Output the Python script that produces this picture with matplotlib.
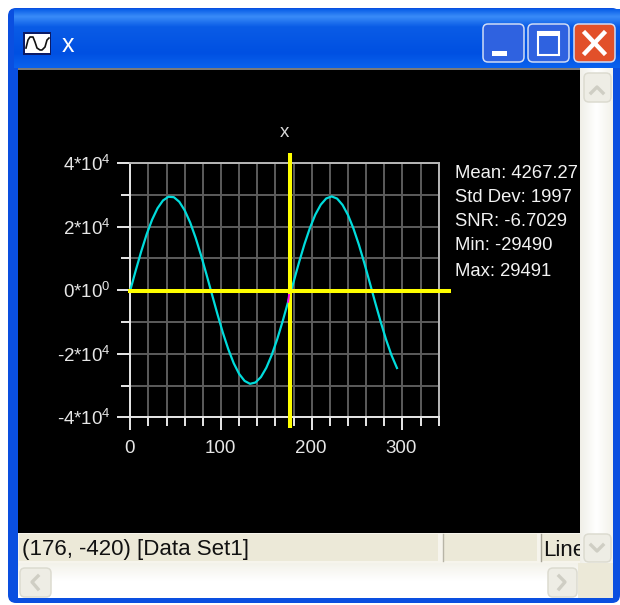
import numpy as np
import matplotlib
matplotlib.use('Agg')
import matplotlib.pyplot as plt
from matplotlib.patches import Rectangle, FancyBboxPatch
from matplotlib.transforms import ScaledTranslation

plt.rcParams['font.family'] = ['Liberation Sans', 'DejaVu Sans']
plt.rcParams['mathtext.default'] = 'regular'

# values
x_vals = [0, 6, 12, 18, 24, 30, 36, 42, 48, 54, 60, 66, 72, 78, 84, 90, 96, 102, 108, 114,
          120, 126, 132, 138, 144, 150, 156, 162, 168, 174, 180, 186, 192, 198, 204, 210,
          216, 222, 228, 234, 240, 246, 252, 258, 264, 270, 276, 282, 288, 294]
y_vals = [0, 6200, 12150, 17540, 22150, 25750, 28200, 29380, 29250, 27800, 25080, 21290,
          16490, 10950, 4920, -1290, -7480, -13340, -18560, -22980, -26360, -28550, -29470,
          -29050, -27340, -24390, -20340, -15400, -9750, -3650, 2570, 8720, 14470, 19550,
          23770, 26900, 28850, 29491, 28800, 26810, 23640, 19400, 14300, 8520, 2360, -3900,
          -9940, -15570, -20500, -24500]
cursor_x = 176
cursor_y = -420
x_ticks = [0, 100, 200, 300]
y_ticks = [-40000, -20000, 0, 20000, 40000]
y_labels = ['-4*10$^{4}$', '-2*10$^{4}$', '0*10$^{0}$', '2*10$^{4}$', '4*10$^{4}$']
stats = ['Mean: 4267.27', 'Std Dev: 1997', 'SNR: -6.7029', 'Min: -29490', 'Max: 29491']
stats_y = [174, 198, 222, 246, 271]

W, H = 620, 605
fig = plt.figure(figsize=(W / 100, H / 100), dpi=100, facecolor='white')

# window chrome in pixel coordinates
bg = fig.add_axes([0, 0, 1, 1])
bg.set_xlim(0, W)
bg.set_ylim(H, 0)
bg.axis('off')


def rect(x0, y0, x1, y1, color, z=1, **kw):
    bg.add_patch(Rectangle((x0, y0), x1 - x0, y1 - y0, facecolor=color, edgecolor='none', zorder=z, **kw))


def gradient(x0, y0, x1, y1, stops, z=1, horizontal=False):
    # stops are (position, colour) going down or across
    n = 64
    t = np.linspace(0, 1, n)
    pos = [s[0] for s in stops]
    cols = np.array([matplotlib.colors.to_rgb(s[1]) for s in stops])
    arr = np.stack([np.interp(t, pos, cols[:, i]) for i in range(3)], axis=-1)
    arr = arr[np.newaxis, :, :] if horizontal else arr[:, np.newaxis, :]
    bg.imshow(arr, extent=(x0, x1, y1, y0), aspect='auto', zorder=z, interpolation='bilinear')


def button(x0, y0, x1, y1, face, edge='#dfe8f8', z=4):
    bg.add_patch(FancyBboxPatch((x0 + 3, y0 + 3), x1 - x0 - 6, y1 - y0 - 6,
                                boxstyle='round,pad=3,rounding_size=5',
                                facecolor=face, edgecolor=edge, linewidth=1.1, zorder=z))


# blue frame and title bar
bg.add_patch(FancyBboxPatch((14, 14), 600, 583, boxstyle='round,pad=6,rounding_size=8',
                            facecolor='#0a4fe0', edgecolor='none', zorder=0.5))
gradient(14, 9, 620, 68, [(0, '#0a5fe8'), (0.12, '#3a8cf8'), (0.3, '#0a5ce6'),
                          (0.75, '#0050e2'), (1, '#0a62ee')], z=0.6)
rect(18, 68, 580, 70, '#7a7a7a', z=2)
rect(18, 70, 580, 533, 'black', z=2)

# right and bottom scrollbars
gradient(580, 68, 613, 563, [(0, '#f0efe8'), (0.5, '#ffffff'), (1, '#f3f2ea')], z=2, horizontal=True)
gradient(18, 563, 580, 598, [(0, '#f3f2ea'), (0.5, '#ffffff'), (1, '#ffffff')], z=2)
rect(578, 563, 613, 598, '#ece9d8', z=2)
rect(18, 533, 580, 563, '#f6f4ec', z=2)

# status bar panels
rect(19, 534, 438, 561, '#ece9d8', z=3)
rect(443, 534, 537, 561, '#ece9d8', z=3)
rect(541, 534, 580, 561, '#ece9d8', z=3)
bg.plot([443, 443], [534, 561], color='#b8b5a7', lw=1, zorder=3)
bg.plot([541, 541], [534, 561], color='#a8a597', lw=1, zorder=3)
bg.text(22, 550, '(176, -420) [Data Set1]', fontsize=16, color='#111111', va='center', zorder=5)
line_text = bg.text(543, 550, 'Line', fontsize=16, color='#111111', va='center', zorder=3)
line_text.set_clip_path(Rectangle((541, 534), 39, 27, transform=bg.transData))
line_text.set_clip_on(True)

# scroll buttons with their arrows
for x0, y0, x1, y1, pts in [
    (584, 73, 611, 102, [(591, 93), (597, 87), (603, 93)]),
    (584, 534, 611, 562, [(591, 545), (597, 551), (603, 545)]),
    (20, 568, 51, 597, [(38, 576), (32, 582), (38, 589)]),
    (548, 568, 577, 597, [(559, 576), (565, 582), (559, 589)]),
]:
    button(x0, y0, x1, y1, '#eeede5', edge='#dcdbd0')
    bg.plot(*zip(*pts), color='#cfcec4', lw=2.4, zorder=5)

# title bar buttons
for x0, face in [(483, '#2f62e0'), (528, '#2f62e0'), (574, '#e2502a')]:
    button(x0, 24, x0 + 41, 62, face, edge='#cfdcf6')
rect(492, 51, 507, 56, 'white', z=5)
bg.add_patch(Rectangle((538, 32), 21, 23, facecolor='none', edgecolor='white', linewidth=1.5, zorder=5))
rect(538, 32, 559, 36, 'white', z=5)
bg.plot([585, 604], [33, 53], color='white', lw=3.2, zorder=5)
bg.plot([585, 604], [53, 33], color='white', lw=3.2, zorder=5)

# title icon and text
rect(23, 32, 51, 55, '#0b1a66', z=3)
rect(25, 34, 50, 53, 'white', z=3)
icon_x = [26, 28, 30, 33, 35, 37, 40, 42, 45, 47, 49]
icon_y = [48, 40, 37, 37, 42, 48, 50, 50, 47, 40, 38]
bg.plot(icon_x, icon_y, color='#111111', lw=1.2, zorder=4)
bg.text(68, 45, 'x', fontsize=18, color='white', ha='center', va='center', zorder=5)

# chart
left, right, top, bottom = 130.3, 438.7, 163, 417.3
ax = fig.add_axes([left / W, 1 - bottom / H, (right - left) / W, (bottom - top) / H], facecolor='black')
ax.set_zorder(3)
ax.set_xlim(0, 340)
ax.set_ylim(-40000, 40000)
ax.set_xticks(x_ticks)
ax.set_xticks(np.arange(0, 341, 20), minor=True)
ax.set_yticks(y_ticks)
ax.set_yticklabels(y_labels)
ax.set_yticks(np.arange(-40000, 40001, 10000), minor=True)
ax.grid(which='both', color='#5c5c5c', linewidth=1.4)
ax.set_axisbelow(True)
ax.tick_params(which='major', length=9.4, width=1.4, color='#e8e8e8', labelcolor='#e6e6e6',
               labelsize=13.5, pad=4.5)
ax.tick_params(which='minor', length=6.3, width=1.4, color='#e8e8e8')
ax.tick_params(axis='x', which='major', pad=7)
for lab in ax.get_xticklabels():
    lab.set_transform(lab.get_transform() + ScaledTranslation(-1 / 100, 0, fig.dpi_scale_trans))
for name, spine in ax.spines.items():
    spine.set_color('#e8e8e8' if name in ('left', 'bottom') else '#b8b8b8')
    spine.set_linewidth(1.4)

ax.plot(x_vals, y_vals, color='#00dcdc', lw=1.6, zorder=3, clip_on=False)
ax.plot([cursor_x, cursor_x], [-43300, 43300], color='#ffff00', lw=2.9, zorder=4,
        clip_on=False, solid_capstyle='butt')
ax.plot([-3, 354], [cursor_y, cursor_y], color='#ffff00', lw=2.9, zorder=4,
        clip_on=False, solid_capstyle='butt')
ax.plot(x_vals[29:30] + [cursor_x - 1], [-3650, -1500], color='#ff00ff', lw=1.4, zorder=5)
ax.set_title('x', color='#d8d8d8', fontsize=13.5, pad=19)

# stats block next to the plot
for label, y in zip(stats, stats_y):
    bg.text(455, y, label, fontsize=13.3, color='#f2f2f2', va='center', zorder=5)

fig.savefig('out.png', dpi=100, facecolor='white')
